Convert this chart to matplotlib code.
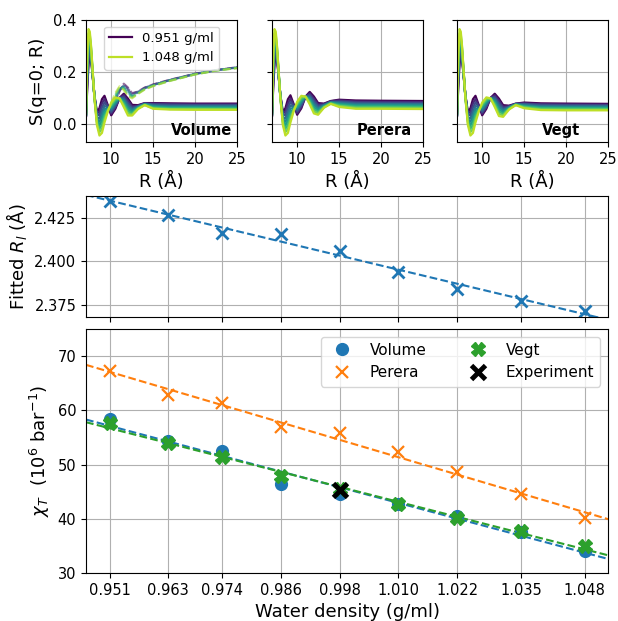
import numpy as np
import matplotlib
matplotlib.use('Agg')
from matplotlib import pyplot as plt

# water densities (g/ml)
density = [0.951, 0.963, 0.974, 0.986, 0.998, 1.010, 1.022, 1.035, 1.048]
density_labels = ['0.951', '0.963', '0.974', '0.986', '0.998', '1.010', '1.022', '1.035', '1.048']

# fitted R_l (A)
r_fitted = [2.4343, 2.4267, 2.4161, 2.4159, 2.4060, 2.3940, 2.3841, 2.3773, 2.3712]

# compressibility chi_T (1e-6 / bar)
chi_volume = [58.4, 54.3, 52.5, 46.4, 44.5, 42.7, 40.6, 37.6, 34.1]
chi_perera = [67.2, 62.8, 61.3, 57.0, 55.8, 52.3, 48.6, 44.5, 40.2]
chi_vegt = [57.7, 53.9, 51.4, 47.8, 45.4, 42.7, 40.2, 37.7, 35.0]
exp_density = 0.998
chi_exp = 45.3

# running S(q=0; R), one row per density
R = [7.0, 7.15, 7.3, 7.45, 7.6, 7.8, 8.0, 8.3, 8.6, 8.9, 9.2, 9.6, 10.0, 10.5,
     11.0, 11.5, 12.0, 12.5, 13.2, 14.0, 15.0, 17.0, 20.0, 25.0]

s_perera = [
    [.030, .140, .230, .265, .250, .180, .110, .045, .060, .095, .110, .075, .035, .060, .105, .123, .105, .080, .078, .088, .093, .090, .089, .088],
    [.031, .156, .247, .276, .256, .183, .109, .039, .047, .079, .097, .072, .041, .066, .105, .117, .097, .074, .076, .087, .090, .086, .085, .084],
    [.033, .173, .264, .288, .263, .185, .108, .033, .034, .063, .084, .069, .048, .072, .105, .111, .089, .069, .074, .085, .086, .082, .081, .080],
    [.034, .189, .281, .299, .269, .188, .106, .026, .021, .046, .071, .066, .054, .078, .105, .105, .081, .063, .072, .084, .083, .078, .077, .076],
    [.035, .205, .298, .310, .275, .190, .105, .020, .008, .030, .058, .063, .060, .084, .105, .099, .073, .058, .070, .083, .079, .074, .074, .073],
    [.036, .221, .314, .321, .281, .193, .104, .014, -.006, .014, .044, .059, .066, .090, .105, .093, .064, .052, .068, .081, .076, .070, .070, .069],
    [.038, .238, .331, .333, .288, .195, .103, .008, -.019, -.003, .031, .056, .073, .096, .105, .087, .056, .046, .066, .080, .072, .066, .066, .065],
    [.039, .254, .348, .344, .294, .198, .101, .001, -.032, -.019, .018, .053, .079, .102, .105, .081, .048, .041, .064, .078, .069, .062, .062, .061],
    [.040, .270, .365, .355, .300, .200, .100, -.005, -.045, -.035, .005, .050, .085, .108, .105, .075, .040, .035, .062, .077, .065, .058, .058, .057],
]

s_vegt = [
    [.030, .140, .230, .265, .250, .180, .110, .045, .060, .095, .108, .072, .033, .058, .100, .116, .097, .072, .070, .078, .082, .079, .078, .077],
    [.031, .156, .247, .276, .256, .183, .109, .039, .047, .079, .095, .069, .039, .064, .100, .110, .089, .066, .068, .077, .079, .076, .075, .074],
    [.033, .173, .264, .288, .263, .185, .108, .033, .034, .063, .082, .066, .045, .069, .100, .103, .080, .061, .066, .077, .077, .073, .072, .071],
    [.034, .189, .281, .299, .269, .188, .106, .026, .021, .046, .069, .063, .051, .075, .099, .097, .072, .055, .064, .076, .074, .069, .068, .068],
    [.035, .205, .298, .310, .275, .190, .105, .020, .008, .030, .057, .060, .058, .080, .099, .091, .064, .050, .063, .075, .071, .066, .065, .065],
    [.036, .221, .314, .321, .281, .193, .104, .014, -.006, .014, .044, .057, .064, .086, .099, .084, .055, .044, .061, .074, .068, .063, .062, .061],
    [.038, .238, .331, .333, .288, .195, .103, .008, -.019, -.003, .031, .054, .070, .091, .099, .078, .047, .038, .059, .074, .066, .060, .059, .058],
    [.039, .254, .348, .344, .294, .198, .101, .001, -.032, -.019, .018, .051, .076, .097, .098, .071, .038, .033, .057, .073, .063, .056, .055, .055],
    [.040, .270, .365, .355, .300, .200, .100, -.005, -.045, -.035, .005, .048, .082, .102, .098, .065, .030, .027, .055, .072, .060, .053, .052, .052],
]

s_volume = [
    [.030, .140, .230, .265, .250, .180, .110, .045, .060, .095, .108, .072, .033, .058, .100, .116, .097, .073, .072, .080, .080, .079, .078, .078],
    [.031, .156, .247, .276, .256, .183, .109, .039, .047, .079, .095, .069, .039, .064, .100, .110, .089, .067, .070, .079, .078, .076, .075, .075],
    [.033, .173, .264, .288, .263, .185, .108, .033, .034, .063, .082, .066, .045, .069, .100, .103, .080, .062, .068, .078, .075, .073, .072, .072],
    [.034, .189, .281, .299, .269, .188, .106, .026, .021, .046, .069, .063, .051, .075, .099, .097, .072, .057, .066, .077, .072, .069, .069, .069],
    [.035, .205, .298, .310, .275, .190, .105, .020, .008, .030, .057, .060, .058, .080, .099, .091, .064, .052, .065, .076, .069, .066, .066, .066],
    [.036, .221, .314, .321, .281, .193, .104, .014, -.006, .014, .044, .057, .064, .086, .099, .084, .056, .046, .063, .075, .066, .063, .063, .062],
    [.038, .238, .331, .333, .288, .195, .103, .008, -.019, -.003, .031, .054, .070, .091, .099, .078, .048, .041, .061, .074, .063, .060, .060, .059],
    [.039, .254, .348, .344, .294, .198, .101, .001, -.032, -.019, .018, .051, .076, .097, .098, .071, .040, .036, .059, .073, .060, .057, .057, .056],
    [.040, .270, .365, .355, .300, .200, .100, -.005, -.045, -.035, .005, .048, .082, .102, .098, .065, .032, .032, .057, .072, .058, .055, .054, .054],
]

# uncorrected running integral (volume panel, dashed)
R_raw = [10.0, 10.5, 11.0, 11.5, 12.0, 12.5, 13.2, 14.0, 15.0, 17.0, 20.0, 22.5, 25.0]
s_volume_raw = [
    [.033, .075, .125, .155, .140, .118, .125, .140, .152, .170, .193, .207, .218],
    [.039, .081, .128, .152, .136, .116, .124, .139, .151, .169, .193, .207, .218],
    [.045, .086, .130, .149, .131, .113, .123, .138, .150, .169, .192, .207, .217],
    [.051, .092, .133, .146, .127, .111, .121, .137, .149, .168, .192, .206, .217],
    [.058, .098, .135, .143, .123, .108, .120, .136, .149, .168, .192, .206, .216],
    [.064, .103, .138, .139, .118, .106, .119, .135, .148, .167, .191, .206, .216],
    [.070, .109, .140, .136, .114, .103, .118, .134, .147, .166, .191, .205, .215],
    [.076, .114, .143, .133, .109, .101, .116, .133, .146, .166, .190, .205, .215],
    [.082, .120, .145, .130, .105, .098, .115, .132, .145, .165, .190, .205, .214],
]

plt.rcParams['font.family'] = ['DejaVu Sans']
plt.rcParams['font.size'] = 10.5
plt.rcParams['axes.labelsize'] = 13
plt.rcParams['xtick.labelsize'] = 10.5
plt.rcParams['ytick.labelsize'] = 10.5
plt.rcParams['grid.color'] = '#b0b0b0'
plt.rcParams['grid.linewidth'] = 0.8

fig = plt.figure(figsize=(6.18, 6.21), dpi=100)
colors = plt.cm.viridis(np.linspace(0, 0.9, len(density)))

# top row: running integrals
panels = [('Volume', s_volume), ('Perera', s_perera), ('Vegt', s_vegt)]
lefts = [0.1392, 0.4401, 0.7395]
top_axes = []
for i, (name, curves) in enumerate(panels):
    if i == 0:
        ax = fig.add_axes([lefts[i], 0.7713, 0.2443, 0.1965])
    else:
        ax = fig.add_axes([lefts[i], 0.7713, 0.2443, 0.1965], sharey=top_axes[0])
    top_axes.append(ax)
    if name == 'Volume':
        for k in range(len(density)):
            ax.plot(R_raw, s_volume_raw[k], '--', color=colors[k], lw=1.5, alpha=0.55)
    for k in range(len(density)):
        lab = density_labels[k] + ' g/ml' if k in (0, len(density) - 1) else None
        ax.plot(R, curves[k], color=colors[k], lw=1.6, label=lab)
    ax.text(0.56, 0.055, name, transform=ax.transAxes, ha='left', va='baseline',
            fontweight='bold', fontsize=10.5)
    ax.set_xlim(7, 25)
    ax.set_ylim(-0.07, 0.4)
    ax.set_xticks([10, 15, 20, 25])
    ax.set_yticks([0.0, 0.2, 0.4])
    ax.grid(True)
    ax.set_xlabel('R (Å)')
    if i == 0:
        ax.set_ylabel('S(q=0; R)')
        ax.legend(loc='upper center', fontsize=9.5, handlelength=1.7)
    else:
        ax.tick_params(labelleft=False)

xlim = (0.9462, 1.0528)
xx = np.array(xlim)

# middle: fitted R_l
ax_r = fig.add_axes([0.1392, 0.4895, 0.8447, 0.1948])
p = np.polyfit(density, r_fitted, 1)
ax_r.plot(xx, np.polyval(p, xx), '--', color='C0', lw=1.5)
ax_r.plot(density, r_fitted, 'x', color='C0', ms=8, mew=2)
ax_r.set_xlim(xlim)
ax_r.set_ylim(2.368, 2.4374)
ax_r.set_yticks([2.375, 2.400, 2.425])
ax_r.set_xticks(density)
ax_r.tick_params(labelbottom=False)
ax_r.grid(True)
ax_r.set_ylabel('Fitted $R_l$ (Å)')

# bottom: compressibility
ax_c = fig.add_axes([0.1392, 0.0773, 0.8447, 0.3929])
for vals, c in [(chi_perera, 'C1'), (chi_volume, 'C0'), (chi_vegt, 'C2')]:
    p = np.polyfit(density, vals, 1)
    ax_c.plot(xx, np.polyval(p, xx), '--', color=c, lw=1.5)
ax_c.plot(density, chi_volume, 'o', color='C0', ms=8.5, label='Volume', zorder=3)
ax_c.plot(density, chi_perera, 'x', color='C1', ms=8, mew=1.6, label='Perera', zorder=3)
ax_c.plot(density, chi_vegt, 'X', color='C2', ms=9.5, label='Vegt', zorder=3)
ax_c.plot([exp_density], [chi_exp], 'x', color='black', ms=10, mew=3.5, label='Experiment', zorder=4)
ax_c.set_xlim(xlim)
ax_c.set_ylim(30, 75)
ax_c.set_yticks([30, 40, 50, 60, 70])
ax_c.set_xticks(density)
ax_c.set_xticklabels(density_labels)
ax_c.grid(True)
ax_c.set_xlabel('Water density (g/ml)')
ax_c.set_ylabel(r'$\chi_T$  ($10^6$ bar$^{-1}$)')
ax_c.legend(loc='upper right', ncol=2, fontsize=11, columnspacing=2.4)

fig.savefig('out.png', dpi=100)
